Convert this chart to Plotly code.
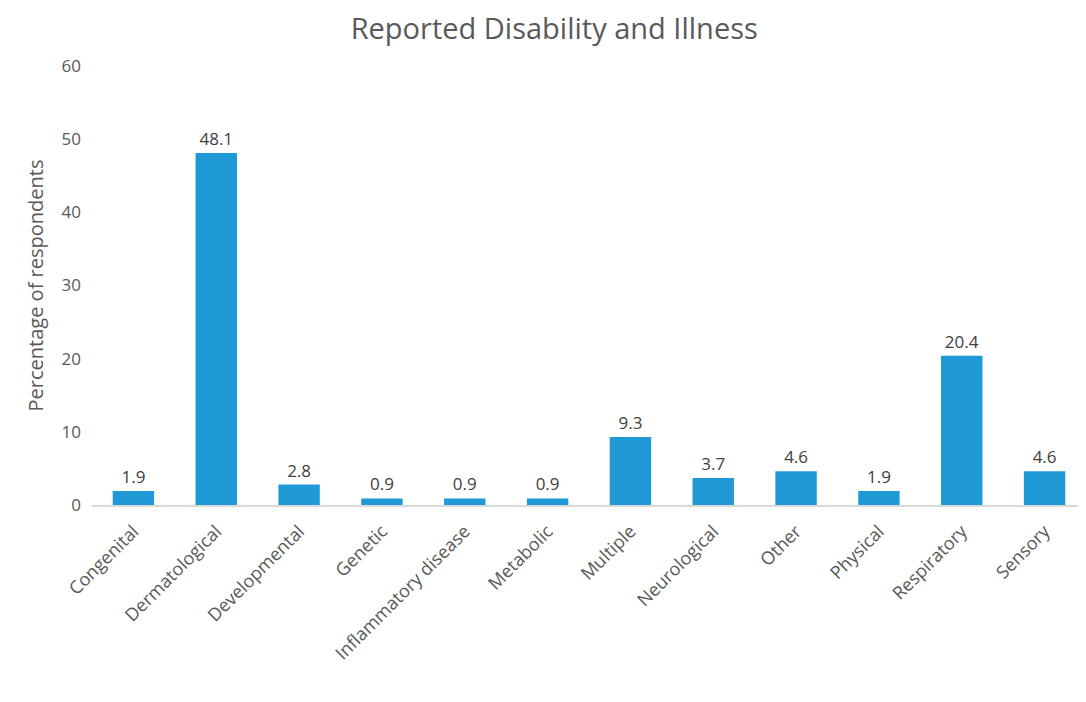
import plotly.graph_objects as go

categories = ["Congenital", "Dermatological", "Developmental", "Genetic",
              "Inflammatory disease", "Metabolic", "Multiple", "Neurological",
              "Other", "Physical", "Respiratory", "Sensory"]
values = [1.9, 48.1, 2.8, 0.9, 0.9, 0.9, 9.3, 3.7, 4.6, 1.9, 20.4, 4.6]
y_ticks = [0, 10, 20, 30, 40, 50, 60]

FONT = "Open Sans"
GREY = "#595959"

fig = go.Figure(go.Bar(
    x=categories, y=values,
    marker=dict(color="#1f9ad6", line=dict(width=0)),
    width=0.5,
    text=[f"{v:.1f}" for v in values],
    textposition="outside",
    textfont=dict(family=FONT, size=17, color="#404040"),
    cliponaxis=False,
))

fig.update_layout(
    width=1086, height=702,
    paper_bgcolor="white", plot_bgcolor="white",
    margin=dict(l=84, r=8, t=58, b=205),
    title=dict(text="Reported Disability and Illness", x=0.503, xanchor="center",
               xref="container", y=0.971, yanchor="middle",
               font=dict(family=FONT, size=29, color=GREY)),
    font=dict(family=FONT, color=GREY),
    showlegend=False,
    xaxis=dict(
        tickangle=-45, tickfont=dict(family=FONT, size=18, color=GREY),
        showline=True, linecolor="#d9d9d9", linewidth=1.5,
        showgrid=False, ticks="", ticklabelstandoff=7,
    ),
    yaxis=dict(
        range=[0, 60], tickvals=y_ticks, showgrid=False, zeroline=False,
        showline=False, ticks="",
        tickfont=dict(family=FONT, size=17, color=GREY),
        ticklabelstandoff=10,
        title=dict(text="Percentage of respondents", standoff=12,
                   font=dict(family=FONT, size=20, color=GREY)),
    ),
)

fig.write_html("out.html")
